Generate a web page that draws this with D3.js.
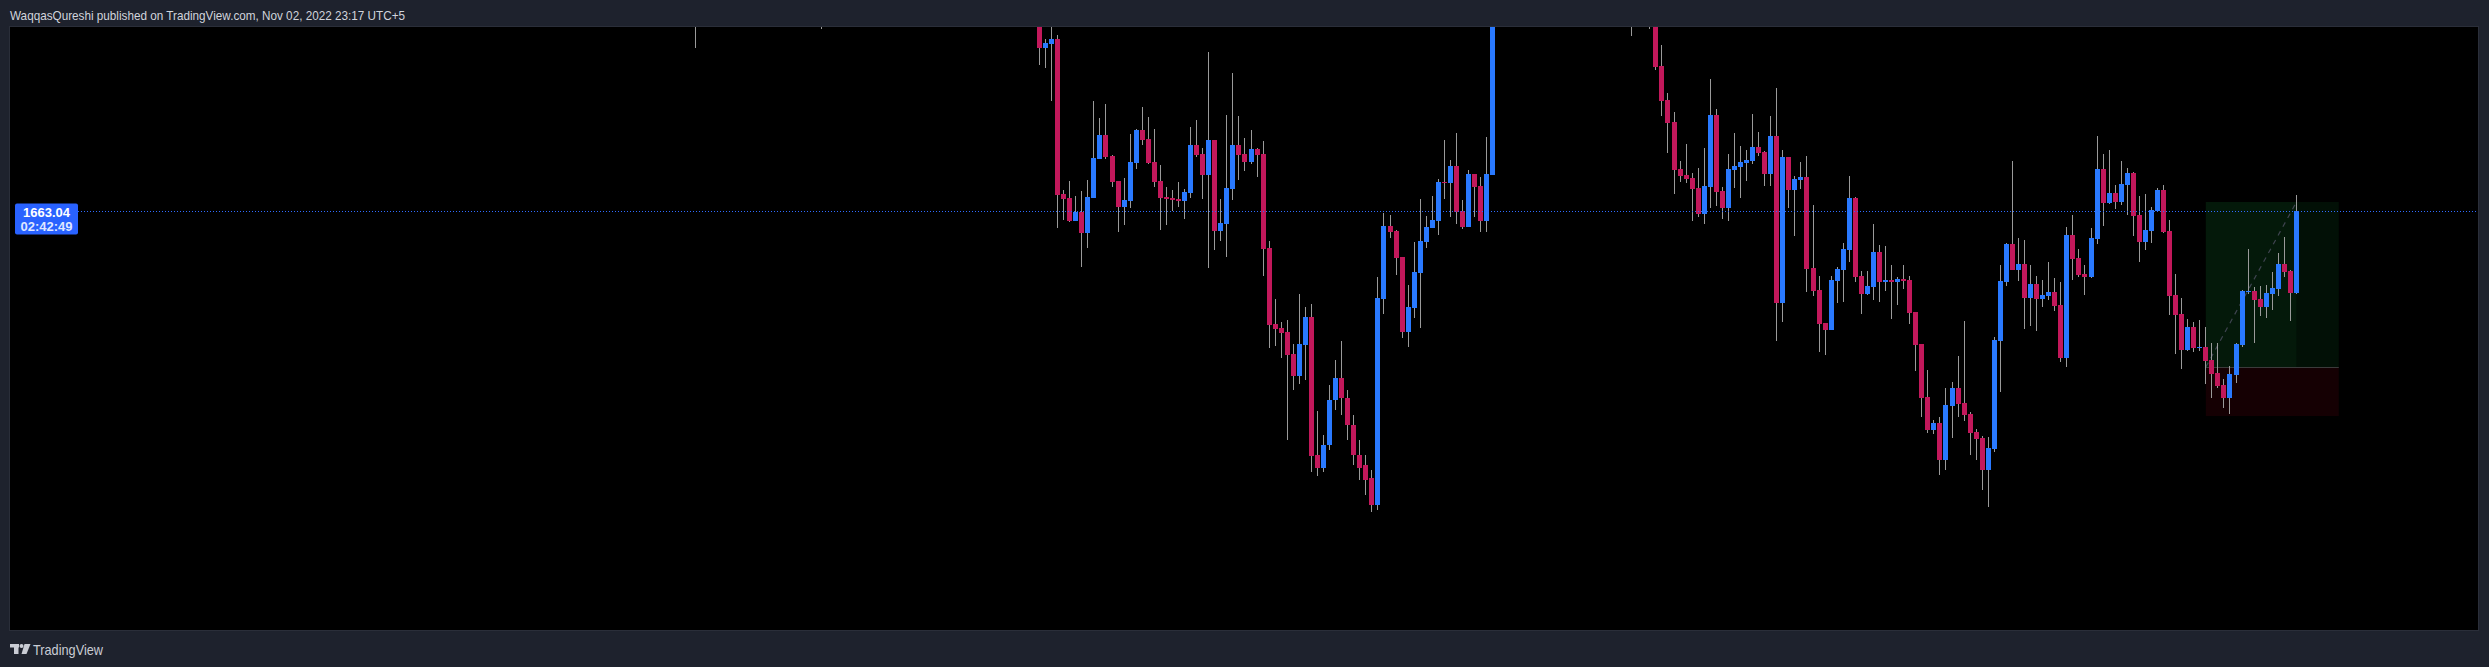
<!DOCTYPE html>
<html><head><meta charset="utf-8">
<script src="https://cdn.jsdelivr.net/npm/d3@7"></script>
<style>html,body{margin:0;padding:0;background:#1e222d;overflow:hidden}</style>
</head><body>
<svg id="c" width="2489" height="667"></svg>
<script>
// ---- data (bar number, OHLC) ----
const bars = [-57, -36, ...d3.range(0, 76), 98, 101, ...d3.range(102, 209)];
const open = [1683.6, 1683.2,
 1683.3,1679.3,1679.7,1680.2,1664.7,1664.3,1662.0,1662.9,1660.8,1664.3,
 1668.2,1670.6,1668.5,1666.0,1663.4,1664.0,1667.8,1671.1,1670.2,1667.9,
 1666.0,1664.4,1664.3,1664.2,1664.0,1664.8,1669.6,1668.7,1666.6,1670.1,
 1661.0,1661.7,1665.2,1669.6,1668.7,1667.9,1669.2,1668.7,1659.3,1651.7,
 1651.3,1650.9,1648.7,1646.5,1649.6,1652.4,1638.6,1637.3,1639.6,1644.1,
 1646.3,1644.3,1641.6,1638.6,1637.6,1636.3,1633.6,1654.2,1661.5,1661.0,
 1658.4,1650.9,1653.3,1656.8,1659.9,1661.3,1662.0,1665.9,1665.8,1667.5,
 1663.0,1661.4,1666.7,1665.5,1662.0,1666.6,
 1683.0, 1683.5,
 1683.6,1677.5,1674.1,1671.9,1667.2,1666.6,1666.3,1665.3,1662.7,1665.4,
 1672.6,1665.0,1663.3,1667.1,1667.4,1667.8,1668.0,1669.4,1668.9,1666.7,
 1670.5,1653.8,1668.4,1665.1,1666.1,1666.4,1657.3,1655.1,1651.8,1651.1,
 1656.0,1657.1,1659.1,1664.3,1656.5,1654.7,1655.4,1658.9,1655.9,1656.1,
 1655.9,1656.2,1656.1,1652.9,1649.7,1644.4,1641.1,1641.8,1638.1,1643.5,
 1645.3,1643.8,1642.7,1640.9,1640.3,1637.1,1639.2,1650.0,1655.9,1659.7,
 1657.1,1657.7,1654.3,1655.7,1654.2,1654.5,1654.9,1653.6,1648.3,1660.6,
 1658.3,1656.7,1656.4,1660.2,1667.2,1663.8,1664.8,1663.9,1665.6,1666.8,
 1662.6,1659.9,1661.0,1663.0,1665.1,1661.0,1654.6,1652.7,1649.1,1651.4,
 1649.3,1649.4,1648.1,1646.8,1645.6,1644.3,1646.6,1649.6,1654.9,1655.0,
 1654.2,1653.4,1654.7,1655.2,1657.7,1657.0,1654.8];
const high = [1684.6, 1684.3,
 1683.9,1680.2,1682.6,1680.6,1665.1,1666.0,1664.5,1665.0,1666.1,1674.0,
 1672.3,1673.7,1668.6,1666.0,1666.3,1670.7,1671.2,1673.4,1672.4,1671.2,
 1667.6,1665.4,1665.1,1665.9,1665.2,1671.4,1672.1,1669.3,1678.9,1670.1,
 1664.2,1672.6,1676.8,1672.5,1670.3,1671.1,1669.3,1670.0,1660.0,1654.2,
 1651.9,1652.1,1649.7,1654.7,1653.4,1653.7,1643.0,1640.6,1645.6,1648.1,
 1650.0,1645.1,1642.6,1640.1,1638.6,1637.1,1656.4,1662.8,1662.6,1661.1,
 1658.4,1655.6,1659.9,1664.2,1662.5,1664.5,1666.2,1670.1,1668.1,1670.8,
 1664.1,1667.1,1666.7,1666.4,1670.4,1684.1,
 1684.5, 1684.8,
 1684.1,1679.6,1674.8,1672.9,1668.0,1669.7,1666.8,1667.3,1669.3,1676.2,
 1673.2,1665.4,1668.7,1670.8,1669.5,1669.1,1672.7,1670.9,1669.0,1672.5,
 1675.3,1669.1,1668.4,1666.5,1667.9,1668.5,1663.6,1656.5,1651.8,1656.5,
 1657.4,1659.8,1666.5,1664.4,1657.0,1657.0,1661.7,1659.6,1659.5,1657.6,
 1656.4,1657.6,1656.5,1652.9,1649.7,1647.1,1642.1,1642.4,1645.3,1645.9,
 1648.5,1652.0,1642.9,1641.2,1640.5,1640.4,1650.4,1657.6,1659.8,1668.0,
 1660.3,1660.1,1657.6,1656.5,1656.1,1657.9,1656.3,1655.9,1661.4,1662.6,
 1659.2,1657.6,1661.3,1670.5,1668.7,1669.1,1665.6,1668.0,1667.3,1666.9,
 1664.5,1664.7,1663.4,1665.3,1665.6,1662.1,1656.7,1654.3,1652.2,1651.9,
 1652.1,1651.4,1649.8,1649.8,1646.2,1647.5,1649.8,1655.1,1659.2,1655.4,
 1655.5,1655.6,1656.9,1658.8,1660.4,1657.1,1664.6];
const low = [1679.3, 1681.2,
 1677.6,1677.3,1674.0,1661.3,1662.1,1661.9,1662.0,1657.4,1659.3,1664.3,
 1668.2,1668.2,1665.4,1660.9,1661.6,1663.3,1667.2,1669.6,1667.7,1665.4,
 1661.1,1661.6,1663.0,1663.4,1662.2,1664.3,1668.4,1664.2,1657.3,1659.1,
 1660.0,1658.4,1664.1,1666.1,1667.0,1667.7,1666.4,1656.5,1649.3,1649.5,
 1648.3,1640.1,1645.1,1645.7,1646.1,1636.9,1636.5,1636.9,1639.1,1643.1,
 1642.6,1640.1,1637.6,1636.1,1634.6,1632.9,1633.1,1652.7,1660.3,1656.6,
 1650.3,1649.4,1652.3,1651.3,1659.3,1661.3,1660.6,1664.2,1662.4,1661.7,
 1661.2,1661.4,1662.4,1660.9,1660.9,1666.6,
 1680.5, 1681.2,
 1677.1,1672.5,1668.8,1664.7,1665.9,1665.8,1662.0,1662.4,1661.7,1663.3,
 1663.5,1662.2,1662.0,1665.3,1664.3,1666.0,1667.7,1668.5,1665.5,1665.5,
 1650.0,1651.9,1663.3,1660.5,1665.2,1654.9,1654.5,1648.9,1648.6,1651.1,
 1653.8,1653.9,1657.9,1655.9,1652.7,1654.6,1654.1,1653.9,1655.0,1652.2,
 1653.6,1655.2,1651.7,1647.0,1642.4,1640.8,1640.7,1636.6,1637.1,1640.3,
 1642.4,1642.0,1638.6,1638.1,1635.1,1633.4,1638.9,1644.9,1655.5,1657.1,
 1656.0,1651.2,1651.5,1651.0,1653.4,1654.1,1653.0,1647.9,1647.4,1656.1,
 1656.4,1654.6,1656.3,1659.7,1661.5,1663.7,1663.2,1663.6,1662.6,1660.5,
 1657.9,1659.1,1659.8,1663.0,1660.8,1652.6,1648.7,1647.2,1649.0,1648.9,
 1649.0,1645.7,1644.3,1645.3,1643.3,1642.7,1645.8,1649.4,1654.7,1649.8,
 1652.5,1652.3,1653.1,1654.5,1656.4,1652.0,1654.7];
const close = [1684.0, 1683.8,
 1679.3,1679.8,1680.2,1664.6,1664.2,1662.0,1662.9,1660.8,1664.4,1668.3,
 1670.6,1668.4,1665.9,1663.4,1664.1,1667.9,1671.1,1670.1,1667.8,1665.9,
 1664.3,1664.2,1664.1,1664.0,1664.9,1669.6,1668.6,1666.6,1670.1,1661.0,
 1661.8,1665.3,1669.6,1668.6,1667.9,1669.2,1668.6,1659.2,1651.6,1651.2,
 1650.8,1648.6,1646.5,1649.7,1652.4,1638.5,1637.3,1639.6,1644.1,1646.3,
 1644.3,1641.6,1638.6,1637.3,1636.1,1633.6,1654.3,1661.5,1660.9,1658.3,
 1650.9,1653.4,1656.9,1660.0,1661.4,1662.1,1665.9,1665.8,1667.5,1662.9,
 1661.4,1666.7,1665.4,1662.0,1666.7,1683.6,
 1684.0, 1684.2,
 1677.4,1674.0,1671.8,1667.1,1666.5,1666.2,1665.2,1662.7,1665.5,1672.6,
 1664.9,1663.3,1667.2,1667.5,1667.9,1668.1,1669.4,1668.8,1666.7,1670.5,
 1653.8,1668.4,1665.1,1666.2,1666.4,1657.2,1655.0,1651.7,1651.1,1656.1,
 1657.2,1659.2,1664.3,1656.4,1654.7,1655.5,1658.9,1655.9,1656.1,1655.9,
 1656.2,1656.0,1652.8,1649.6,1644.3,1641.1,1641.8,1638.1,1643.6,1645.3,
 1643.7,1642.6,1640.8,1640.2,1637.1,1639.3,1650.1,1656.0,1659.7,1657.1,
 1657.7,1654.3,1655.7,1654.2,1654.6,1654.9,1653.5,1648.3,1660.6,1658.2,
 1656.6,1656.4,1660.3,1667.2,1663.8,1664.8,1663.9,1665.7,1666.8,1662.5,
 1659.9,1661.1,1663.1,1665.1,1660.9,1654.5,1652.6,1649.1,1651.4,1649.3,
 1649.4,1648.0,1646.7,1645.5,1644.3,1646.7,1649.7,1655.0,1655.0,1654.1,
 1653.4,1654.8,1655.3,1657.7,1656.9,1654.8,1663.04];

// long position tool: [entry bar, current bar, end bar], [stop, entry, target]
const positionBars = [193, 208, 215];
const positionPrices = [1642.5, 1647.4, 1663.9];
const lastPrice = 1663.04;
const countdown = "02:42:49";
const headerText = "WaqqasQureshi published on TradingView.com, Nov 02, 2022 23:17 UTC+5";
const footerText = "TradingView";

// ---- layout ----
const W = 2489, H = 667;
const plot = {left: 10, right: 2478, top: 27, bottom: 630};
const svg = d3.select("#c");
const x = d3.scaleLinear().domain([-170.36, 238.04]).range([plot.left, plot.right]);
const y = d3.scaleLinear().domain([1621.1, 1681.4]).range([plot.bottom, plot.top]);

const UP = "#2979ff", DOWN = "#c2185b", WICK = "#9a9a9a";

svg.append("rect").attr("width", W).attr("height", H).attr("fill", "#1e222d");
svg.append("rect").attr("x", plot.left - 0.5).attr("y", plot.top - 0.5)
  .attr("width", plot.right - plot.left + 1).attr("height", plot.bottom - plot.top + 1)
  .attr("fill", "#000").attr("stroke", "#2a2e39").attr("stroke-width", 1);

svg.append("defs").append("clipPath").attr("id", "clip").append("rect")
  .attr("x", plot.left).attr("y", plot.top)
  .attr("width", plot.right - plot.left).attr("height", plot.bottom - plot.top);

const g = svg.append("g").attr("clip-path", "url(#clip)");

// position tool
const [pb0, pb1, pb2] = positionBars;
const [stopP, entryP, targetP] = positionPrices;
g.append("rect").attr("x", x(pb0)).attr("width", x(pb2) - x(pb0))
  .attr("y", y(targetP)).attr("height", y(entryP) - y(targetP)).attr("fill", "#021006");
g.append("rect").attr("x", x(pb0)).attr("width", x(pb1) - x(pb0))
  .attr("y", y(targetP)).attr("height", y(entryP) - y(targetP)).attr("fill", "#04190a");
g.append("rect").attr("x", x(pb0)).attr("width", x(pb2) - x(pb0))
  .attr("y", y(entryP)).attr("height", y(stopP) - y(entryP)).attr("fill", "#150003");
g.append("line").attr("x1", x(pb0)).attr("x2", x(pb2))
  .attr("y1", Math.round(y(entryP)) + 0.5).attr("y2", Math.round(y(entryP)) + 0.5)
  .attr("stroke", "#3b3b3b").attr("stroke-width", 1);
g.append("line").attr("x1", x(pb0)).attr("y1", y(entryP))
  .attr("x2", x(pb1)).attr("y2", y(targetP))
  .attr("stroke", "#3f4450").attr("stroke-width", 1.2).attr("stroke-dasharray", "5,5");

// candles
const data = bars.map((b, i) => ({b, o: open[i], h: high[i], l: low[i], c: close[i]}));
const cx = d => Math.round(x(d.b) - 2.5);
g.selectAll("line.wick").data(data).join("line").attr("class", "wick")
  .attr("x1", d => cx(d) + 2.5).attr("x2", d => cx(d) + 2.5)
  .attr("y1", d => y(d.h)).attr("y2", d => y(d.l))
  .attr("stroke", WICK).attr("stroke-width", 1);
g.selectAll("rect.body").data(data).join("rect").attr("class", "body")
  .attr("x", d => cx(d)).attr("width", 5)
  .attr("y", d => Math.round(y(Math.max(d.o, d.c))))
  .attr("height", d => Math.max(1, Math.round(y(Math.min(d.o, d.c))) - Math.round(y(Math.max(d.o, d.c)))))
  .attr("fill", d => d.c >= d.o ? UP : DOWN);

// last price line
const ly = Math.round(y(lastPrice)) + 0.5;
svg.append("line").attr("x1", 78).attr("x2", plot.right).attr("y1", ly).attr("y2", ly)
  .attr("stroke", "#2f6bff").attr("stroke-width", 1).attr("stroke-dasharray", "1,2");
svg.append("rect").attr("x", 15).attr("y", ly - 8).attr("width", 63).attr("height", 31)
  .attr("rx", 2).attr("fill", "#2962ff");
svg.append("text").attr("x", 46.5).attr("y", ly + 5.5).attr("text-anchor", "middle")
  .attr("font-family", "Liberation Sans, Arial, sans-serif").attr("font-size", 13)
  .attr("font-weight", "bold").attr("fill", "#fff").text(d3.format(".2f")(lastPrice));
svg.append("text").attr("x", 46.5).attr("y", ly + 19.5).attr("text-anchor", "middle")
  .attr("font-family", "Liberation Sans, Arial, sans-serif").attr("font-size", 13)
  .attr("font-weight", "bold").attr("fill", "#dfe6ff").text(countdown);

// header
svg.append("text").attr("x", 10).attr("y", 19.5)
  .attr("font-family", "Liberation Sans, Arial, sans-serif").attr("font-size", 13)
  .attr("fill", "#d1d4dc").attr("textLength", 395).attr("lengthAdjust", "spacingAndGlyphs")
  .text(headerText);

// footer logo
const logo = svg.append("g").attr("fill", "#c9ccd4");
logo.append("rect").attr("x", 10).attr("y", 644).attr("width", 9).attr("height", 3.5);
logo.append("rect").attr("x", 14).attr("y", 644).attr("width", 4.5).attr("height", 10);
logo.append("circle").attr("cx", 21.5).attr("cy", 646).attr("r", 2);
logo.append("path").attr("d", "M24.5,644 L30.5,644 L26.5,654 L21.5,654 Z");
svg.append("text").attr("x", 33).attr("y", 655)
  .attr("font-family", "Liberation Sans, Arial, sans-serif").attr("font-size", 15)
  .attr("fill", "#c9ccd4").attr("textLength", 70).attr("lengthAdjust", "spacingAndGlyphs")
  .text(footerText);
</script>
</body></html>
